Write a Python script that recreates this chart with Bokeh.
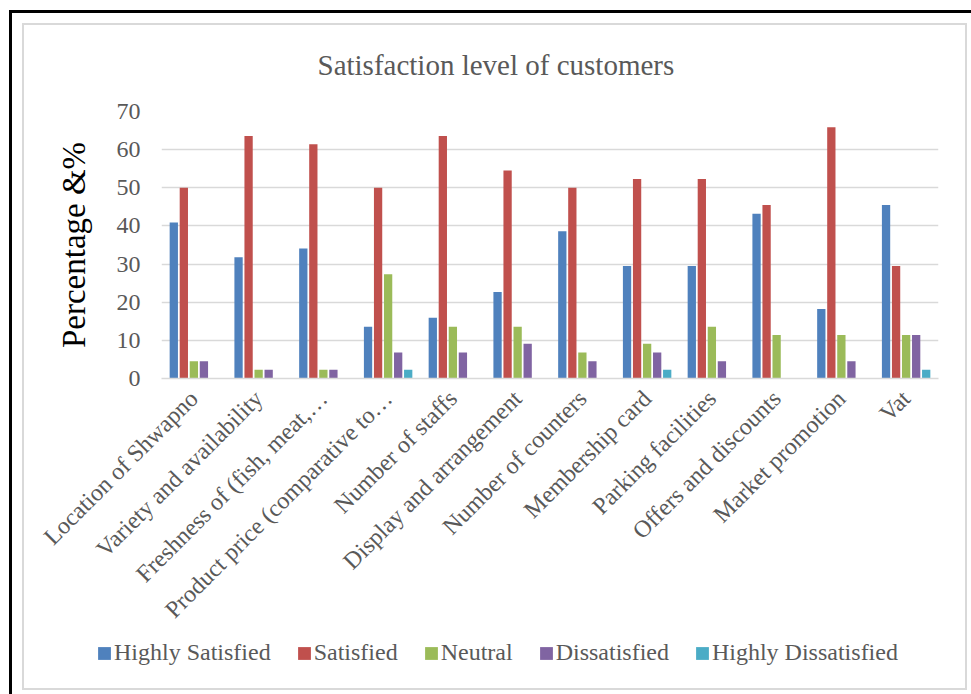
from math import pi
from bokeh.plotting import figure
from bokeh.layouts import column
from bokeh.models import (ColumnDataSource, FactorRange, Range1d, FixedTicker,
                          Legend, LegendItem)
from bokeh.transform import dodge
from bokeh.embed import file_html
from bokeh.resources import INLINE

categories = ["Location of Shwapno", "Variety and availability",
              "Freshness of (fish, meat,\u2026", "Product price (comparative to\u2026",
              "Number of staffs", "Display and arrangement", "Number of counters",
              "Membership card", "Parking facilities", "Offers and discounts",
              "Market promotion", "Vat"]
highly_satisfied = [40.9, 31.8, 34.1, 13.6, 15.9, 22.7, 38.6, 29.5, 29.5, 43.2, 18.2, 45.5]
satisfied = [50.0, 63.6, 61.4, 50.0, 63.6, 54.5, 50.0, 52.3, 52.3, 45.5, 65.9, 29.5]
neutral = [4.5, 2.3, 2.3, 27.3, 13.6, 13.6, 6.8, 9.1, 13.6, 11.4, 11.4, 11.4]
dissatisfied = [4.5, 2.3, 2.3, 6.8, 6.8, 9.1, 4.5, 6.8, 4.5, 0.0, 4.5, 11.4]
highly_dissatisfied = [0.0, 0.0, 0.0, 2.3, 0.0, 0.0, 0.0, 2.3, 0.0, 0.0, 0.0, 2.3]
series_names = ["Highly Satisfied", "Satisfied", "Neutral", "Dissatisfied", "Highly Dissatisfied"]
y_ticks = [0, 10, 20, 30, 40, 50, 60, 70]

colors = ["#4F81BD", "#C0504D", "#9BBB59", "#8064A2", "#4BACC6"]
keys = ["hs", "s", "n", "d", "hd"]
source = ColumnDataSource(data=dict(cat=categories, hs=highly_satisfied, s=satisfied,
                                    n=neutral, d=dissatisfied, hd=highly_dissatisfied))

FONT = "Liberation Serif"
GREY = "#595959"

p = figure(width=959, height=624, x_range=FactorRange(*categories, range_padding=0),
           y_range=Range1d(0, 70), output_backend="svg", toolbar_location=None,
           min_border_left=149, min_border_right=33, min_border_top=98,
           min_border_bottom=259, background_fill_alpha=0,
           border_fill_alpha=0, outline_line_color=None,
           title="Satisfaction level of customers")

p.title.text_font = FONT
p.title.text_font_size = "29px"
p.title.text_font_style = "normal"
p.title.text_color = GREY
p.title.align = "left"
p.title.offset = 156
p.title.standoff = 62

offsets = [-0.31, -0.155, 0.0, 0.155, 0.31]
for k, off, c in zip(keys, offsets, colors):
    p.vbar(x=dodge("cat", off, range=p.x_range), top=k, width=0.128, source=source,
           fill_color=c, line_color=None)

# axes
p.xgrid.grid_line_color = None
p.ygrid.grid_line_color = "#d9d9d9"
p.ygrid.grid_line_width = 1.5
p.yaxis.ticker = FixedTicker(ticks=y_ticks)
p.yaxis.axis_line_color = None
p.yaxis.major_tick_line_color = None
p.yaxis.minor_tick_line_color = None
p.yaxis.major_tick_out = 0
p.yaxis.major_tick_in = 0
p.yaxis.major_label_standoff = 21
p.yaxis.major_label_text_font = FONT
p.yaxis.major_label_text_font_size = "24px"
p.yaxis.major_label_text_color = GREY
p.yaxis.axis_label = "Percentage &%"
p.yaxis.axis_label_text_font = FONT
p.yaxis.axis_label_text_font_size = "33px"
p.yaxis.axis_label_text_font_style = "normal"
p.yaxis.axis_label_text_color = "black"
p.yaxis.axis_label_standoff = 22

p.xaxis.axis_line_color = "#d9d9d9"
p.xaxis.axis_line_width = 1.5
p.xaxis.major_tick_line_color = None
p.xaxis.minor_tick_line_color = None
p.xaxis.major_tick_out = 0
p.xaxis.major_tick_in = 0
p.xaxis.major_label_orientation = pi / 4
p.xaxis.major_label_standoff = 16
p.xaxis.major_label_text_font = FONT
p.xaxis.major_label_text_font_size = "24px"
p.xaxis.major_label_text_color = GREY

# legend strip (its own small figure below the chart; bars kept out of view)
pl = figure(width=959, height=57, x_range=FactorRange(*categories), y_range=Range1d(1000, 1001),
            output_backend="svg", toolbar_location=None, x_axis_location=None,
            y_axis_location=None, min_border=0, background_fill_alpha=0,
            border_fill_alpha=0, outline_line_color=None)
pl.grid.visible = False
for fig in (p, pl):
    if "frame_align" in fig.properties():
        fig.frame_align = False
leg_renderers = []
for k, c in zip(keys, colors):
    leg_renderers.append(pl.vbar(x="cat", top=k, width=0.1, source=source,
                                 fill_color=c, line_color=None))

legend = Legend(items=[LegendItem(label=n, renderers=[r]) for n, r in zip(series_names, leg_renderers)],
                orientation="horizontal", location=(84, 28),
                glyph_width=16, glyph_height=16, label_standoff=2, spacing=25,
                padding=2, margin=0, border_line_color=None, background_fill_alpha=0,
                label_text_font=FONT, label_text_font_size="24px", label_text_color=GREY)
pl.add_layout(legend)

layout = column(p, pl, spacing=0)
# outer chart frame: black top/left rules and the light grey chart-area border
layout.styles = {
    "box-sizing": "content-box",
    "margin-left": "9px",
    "margin-top": "10px",
    "border-left": "3px solid black",
    "border-top": "3px solid black",
    "background-color": "white",
    "box-shadow": "inset 3px 3px 0 7px #ffffff, inset 3px 3px 0 9px #d9d9d9",
}

open("out.html", "w").write(file_html(layout, INLINE))
